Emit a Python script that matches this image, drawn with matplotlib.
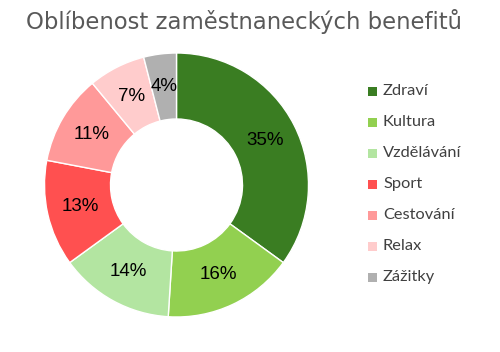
import matplotlib
matplotlib.use("Agg")
import matplotlib.pyplot as plt
from matplotlib.patches import Rectangle

categories = ["Zdraví", "Kultura", "Vzdělávání", "Sport", "Cestování", "Relax", "Zážitky"]
values = [35, 16, 14, 13, 11, 7, 4]
colors = ["#3a7d22", "#92d050", "#b3e5a1", "#ff5050", "#ff9999", "#ffcccc", "#b0b0b0"]
title = "Oblíbenost zaměstnaneckých benefitů"

W, H = 500, 352
fig = plt.figure(figsize=(W / 100, H / 100), dpi=100)
cx, cy, r = 176.5, 185, 132
ax = fig.add_axes([(cx - r) / W, (H - cy - r) / H, 2 * r / W, 2 * r / H])
wedges, texts, autotexts = ax.pie(
    values, colors=colors, startangle=90, counterclock=False, radius=1,
    wedgeprops=dict(width=0.5, edgecolor="white", linewidth=1),
    autopct=lambda p: f"{p:.0f}%", pctdistance=0.75,
    textprops=dict(fontsize=13.5, color="black", family="Liberation Sans"))
ax.set_xlim(-1, 1)
ax.set_ylim(-1, 1)
ax.set_aspect("equal")
ax.axis("off")

fig.text(244 / W, 1 - 22 / H, title, ha="center", va="center", fontsize=16.4,
         color="#595959", family="DejaVu Sans")

y0, dy = 91, 31
for i, (c, lab) in enumerate(zip(categories, colors)):
    y = y0 + i * dy
    fig.add_artist(Rectangle((368 / W, 1 - (y + 4.5) / H), 9 / W, 9 / H,
                             transform=fig.transFigure, facecolor=lab, edgecolor="none"))
    fig.text(383 / W, 1 - y / H, c, ha="left", va="center", fontsize=11.8,
             color="#404040", family="Lato")

fig.savefig("out.png", dpi=100)
